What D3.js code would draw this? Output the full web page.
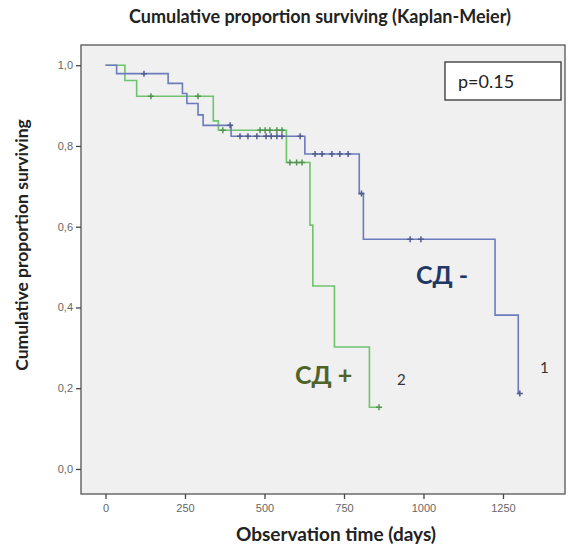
<!DOCTYPE html>
<html>
<head>
<meta charset="utf-8">
<script src="https://cdn.jsdelivr.net/npm/d3@7"></script>
<style>
  body { margin: 0; background: #fff; }
  svg { display: block; }
</style>
</head>
<body>
<svg width="575" height="544"></svg>
<script>
// group 1 (СД -) : event times (days) and survival after each event
var blueTimes = [35, 197, 242, 256, 291, 307, 395, 627, 798, 811, 1225, 1298];
var blueSurv  = [0.979, 0.955, 0.930, 0.905, 0.877, 0.851, 0.824, 0.780, 0.682, 0.569, 0.381, 0.187];
var blueCensored = [121, 392, 423, 448, 476, 505, 521, 539, 555, 612, 659, 681, 712, 737, 763, 805, 958, 992, 1303];

// group 2 (СД +)
var greenTimes = [61, 98, 339, 355, 569, 643, 652, 720, 830];
var greenSurv  = [0.962, 0.923, 0.862, 0.839, 0.759, 0.604, 0.453, 0.302, 0.153];
var greenCensored = [143, 291, 369, 486, 502, 517, 539, 555, 580, 601, 618, 860];

var xTicks = [0, 250, 500, 750, 1000, 1250];
var yTicks = [0, 0.2, 0.4, 0.6, 0.8, 1.0];

var svg = d3.select("svg"),
    plotL = 81, plotR = 565, plotT = 45, plotB = 494;

var x = d3.scaleLinear().domain([-77, 1445]).range([plotL, plotR]);
var y = d3.scaleLinear().domain([-0.062, 1.05]).range([plotB, plotT]);

// plot background
svg.append("rect")
    .attr("x", plotL).attr("y", plotT)
    .attr("width", plotR - plotL).attr("height", plotB - plotT)
    .attr("fill", "#f0f0f0")
    .attr("stroke", "#555").attr("stroke-width", 1.3);

// title
svg.append("text")
    .attr("x", 320).attr("y", 23)
    .attr("text-anchor", "middle")
    .attr("font-family", "Lato, sans-serif").attr("font-weight", "bold")
    .attr("font-size", 18).attr("fill", "#222")
    .text("Cumulative proportion surviving (Kaplan-Meier)");

// axes
var fmt = function(d) { return d3.format(".1f")(d).replace(".", ","); };

var yAxis = svg.append("g")
    .attr("transform", "translate(" + plotL + ",0)")
    .call(d3.axisLeft(y).tickValues(yTicks).tickFormat(fmt).tickSize(5).tickPadding(3));
yAxis.select(".domain").remove();

var xAxis = svg.append("g")
    .attr("transform", "translate(0," + plotB + ")")
    .call(d3.axisBottom(x).tickValues(xTicks).tickFormat(d3.format("d")).tickSize(5).tickPadding(5));
xAxis.select(".domain").remove();

svg.selectAll(".tick line").attr("stroke", "#444").attr("stroke-width", 1.3);
svg.selectAll(".tick text")
    .attr("font-family", "Liberation Sans, Arial, sans-serif")
    .attr("font-size", 11).attr("fill", "#666");

// axis titles
svg.append("text")
    .attr("transform", "translate(28,245) rotate(-90)")
    .attr("text-anchor", "middle")
    .attr("font-family", "Lato, sans-serif").attr("font-weight", "bold")
    .attr("font-size", 17.5).attr("fill", "#222")
    .text("Cumulative proportion surviving");

svg.append("text")
    .attr("x", 336).attr("y", 541)
    .attr("text-anchor", "middle")
    .attr("font-family", "Lato, sans-serif").attr("font-weight", "bold")
    .attr("font-size", 19).attr("fill", "#222")
    .text("Observation time (days)");

// survival curves
function steps(times, surv, censored) {
  var pts = [{t: 0, s: 1}];
  for (var i = 0; i < times.length; i++) pts.push({t: times[i], s: surv[i]});
  var last = d3.max(censored.concat(times));
  pts.push({t: last, s: surv[surv.length - 1]});
  return pts;
}

function survAt(times, surv, t) {
  var s = 1;
  for (var i = 0; i < times.length; i++) if (times[i] <= t) s = surv[i];
  return s;
}

var line = d3.line()
    .x(function(d) { return x(d.t); })
    .y(function(d) { return y(d.s); })
    .curve(d3.curveStepAfter);

var groups = [
  {times: greenTimes, surv: greenSurv, cens: greenCensored, color: "#6dc46d"},
  {times: blueTimes, surv: blueSurv, cens: blueCensored, color: "#6b7bbd"}
];

groups.forEach(function(g) {
  svg.append("path")
      .datum(steps(g.times, g.surv, g.cens))
      .attr("d", line)
      .attr("fill", "none")
      .attr("stroke", g.color)
      .attr("stroke-width", 1.6);

  svg.append("g").selectAll("path")
      .data(g.cens)
      .enter().append("path")
      .attr("transform", function(d) {
        return "translate(" + x(d) + "," + y(survAt(g.times, g.surv, d)) + ")";
      })
      .attr("d", "M-3,0H3M0,-3V3")
      .attr("stroke", d3.color(g.color).darker(0.8))
      .attr("stroke-width", 1.5);
});

// p-value box
svg.append("rect")
    .attr("x", 445).attr("y", 62)
    .attr("width", 116).attr("height", 38)
    .attr("fill", "#fff").attr("stroke", "#333").attr("stroke-width", 1.3);
svg.append("text")
    .attr("x", 458).attr("y", 88)
    .attr("font-family", "Lato, sans-serif")
    .attr("font-size", 18).attr("fill", "#222")
    .text("p=0.15");

// group labels
svg.append("text")
    .attr("x", 416).attr("y", 284)
    .attr("font-family", "Lato, sans-serif").attr("font-weight", "bold")
    .attr("font-size", 25).attr("fill", "#203864")
    .text("СД -");

svg.append("text")
    .attr("x", 295).attr("y", 384)
    .attr("font-family", "Lato, sans-serif").attr("font-weight", "bold")
    .attr("font-size", 25).attr("fill", "#4f6228")
    .text("СД +");

svg.append("text")
    .attr("x", x(1380)).attr("y", 373)
    .attr("text-anchor", "middle")
    .attr("font-family", "Lato, sans-serif")
    .attr("font-size", 15).attr("fill", "#333")
    .text("1");

svg.append("text")
    .attr("x", x(930)).attr("y", 385)
    .attr("text-anchor", "middle")
    .attr("font-family", "Lato, sans-serif")
    .attr("font-size", 15).attr("fill", "#333")
    .text("2");
</script>
</body>
</html>
